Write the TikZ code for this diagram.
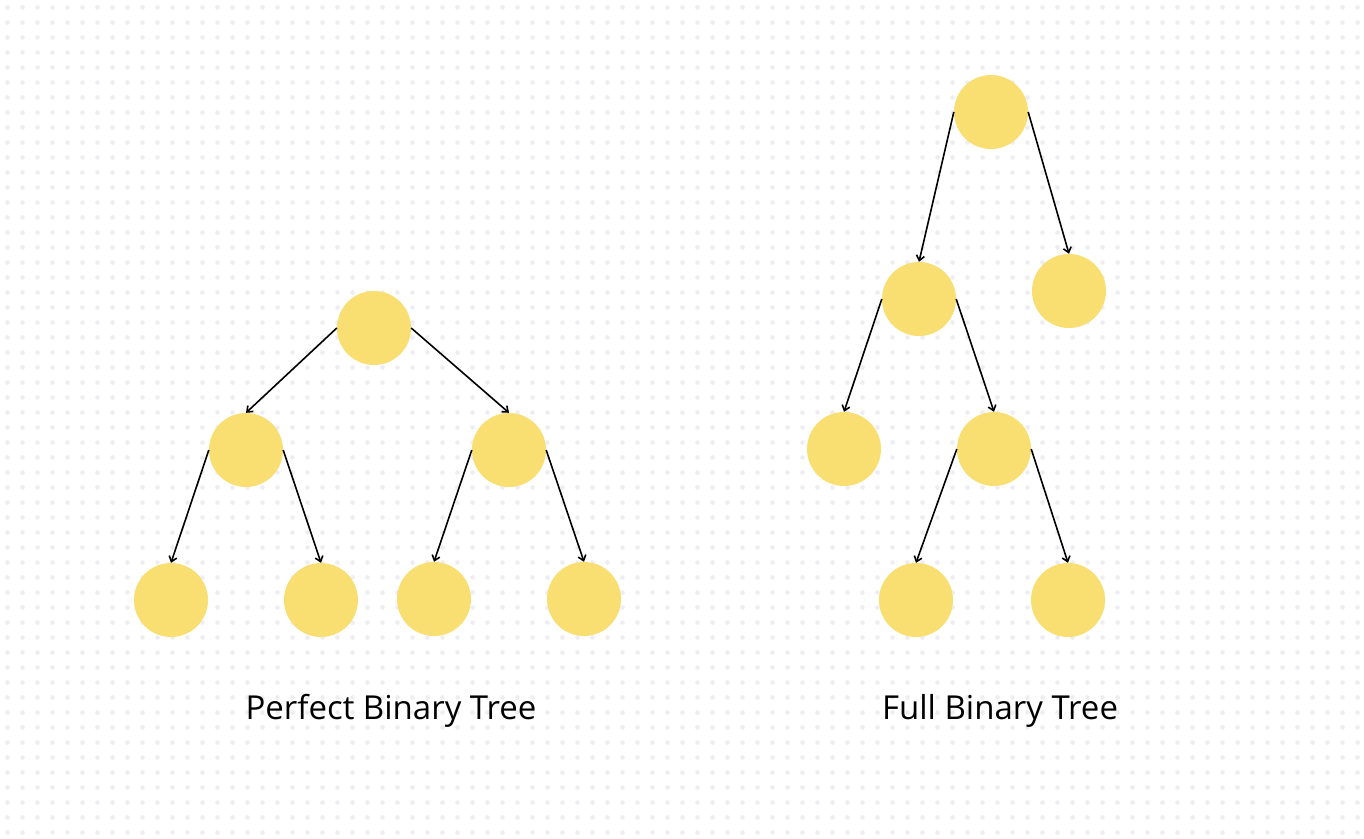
\documentclass[tikz,border=0pt]{standalone}
\usepackage{fontspec}
\setmainfont{Open Sans}
\usetikzlibrary{arrows.meta}
\definecolor{treenode}{HTML}{F9DE71}
\definecolor{dotgray}{HTML}{EDEDF2}
\tikzset{
  leaf/.style={shape=circle,fill=treenode,inner sep=0pt,minimum size=74pt},
  link/.style={-{Straight Barb[length=5pt,width=8pt]},line width=1.6pt,black},
  caption/.style={font=\fontsize{33}{38}\selectfont}
}
\begin{document}
\begin{tikzpicture}[x=1pt,y=-1pt]
  \fill[white] (0,0) rectangle (1364,838);
  \useasboundingbox (0,0) rectangle (1364,838);
  % dotted paper
  \foreach \i in {0,...,90}
    \foreach \j in {0,...,55}
      \fill[dotgray] (7.5+15*\i,7.5+15*\j) circle (2.3);

  % perfect binary tree
  \node[leaf] (p) at (374,328) {};
  \node[leaf] (pl) at (246,450) {};
  \node[leaf] (pr) at (509,450) {};
  \node[leaf] (pll) at (171,600) {};
  \node[leaf] (plr) at (321,600) {};
  \node[leaf] (prl) at (434,599) {};
  \node[leaf] (prr) at (584,599) {};

  \draw[link] (p.west) -- (pl.north);
  \draw[link] (p.east) -- (pr.north);
  \draw[link] (pl.west) -- (pll.north);
  \draw[link] (pl.east) -- (plr.north);
  \draw[link] (pr.west) -- (prl.north);
  \draw[link] (pr.east) -- (prr.north);

  % full binary tree
  \node[leaf] (f) at (991,112) {};
  \node[leaf] (fl) at (919,299) {};
  \node[leaf] (fr) at (1069,291) {};
  \node[leaf] (fll) at (844,449) {};
  \node[leaf] (flr) at (994,449) {};
  \node[leaf] (flrl) at (916,600) {};
  \node[leaf] (flrr) at (1068,600) {};

  \draw[link] (f.west) -- (fl.north);
  \draw[link] (f.east) -- (fr.north);
  \draw[link] (fl.west) -- (fll.north);
  \draw[link] (fl.east) -- (flr.north);
  \draw[link] (flr.west) -- (flrl.north);
  \draw[link] (flr.east) -- (flrr.north);

  \node[caption] (ptitle) at (391,711) {Perfect Binary Tree};
  \node[caption] (ftitle) at (1000,711) {Full Binary Tree};
\end{tikzpicture}
\end{document}
